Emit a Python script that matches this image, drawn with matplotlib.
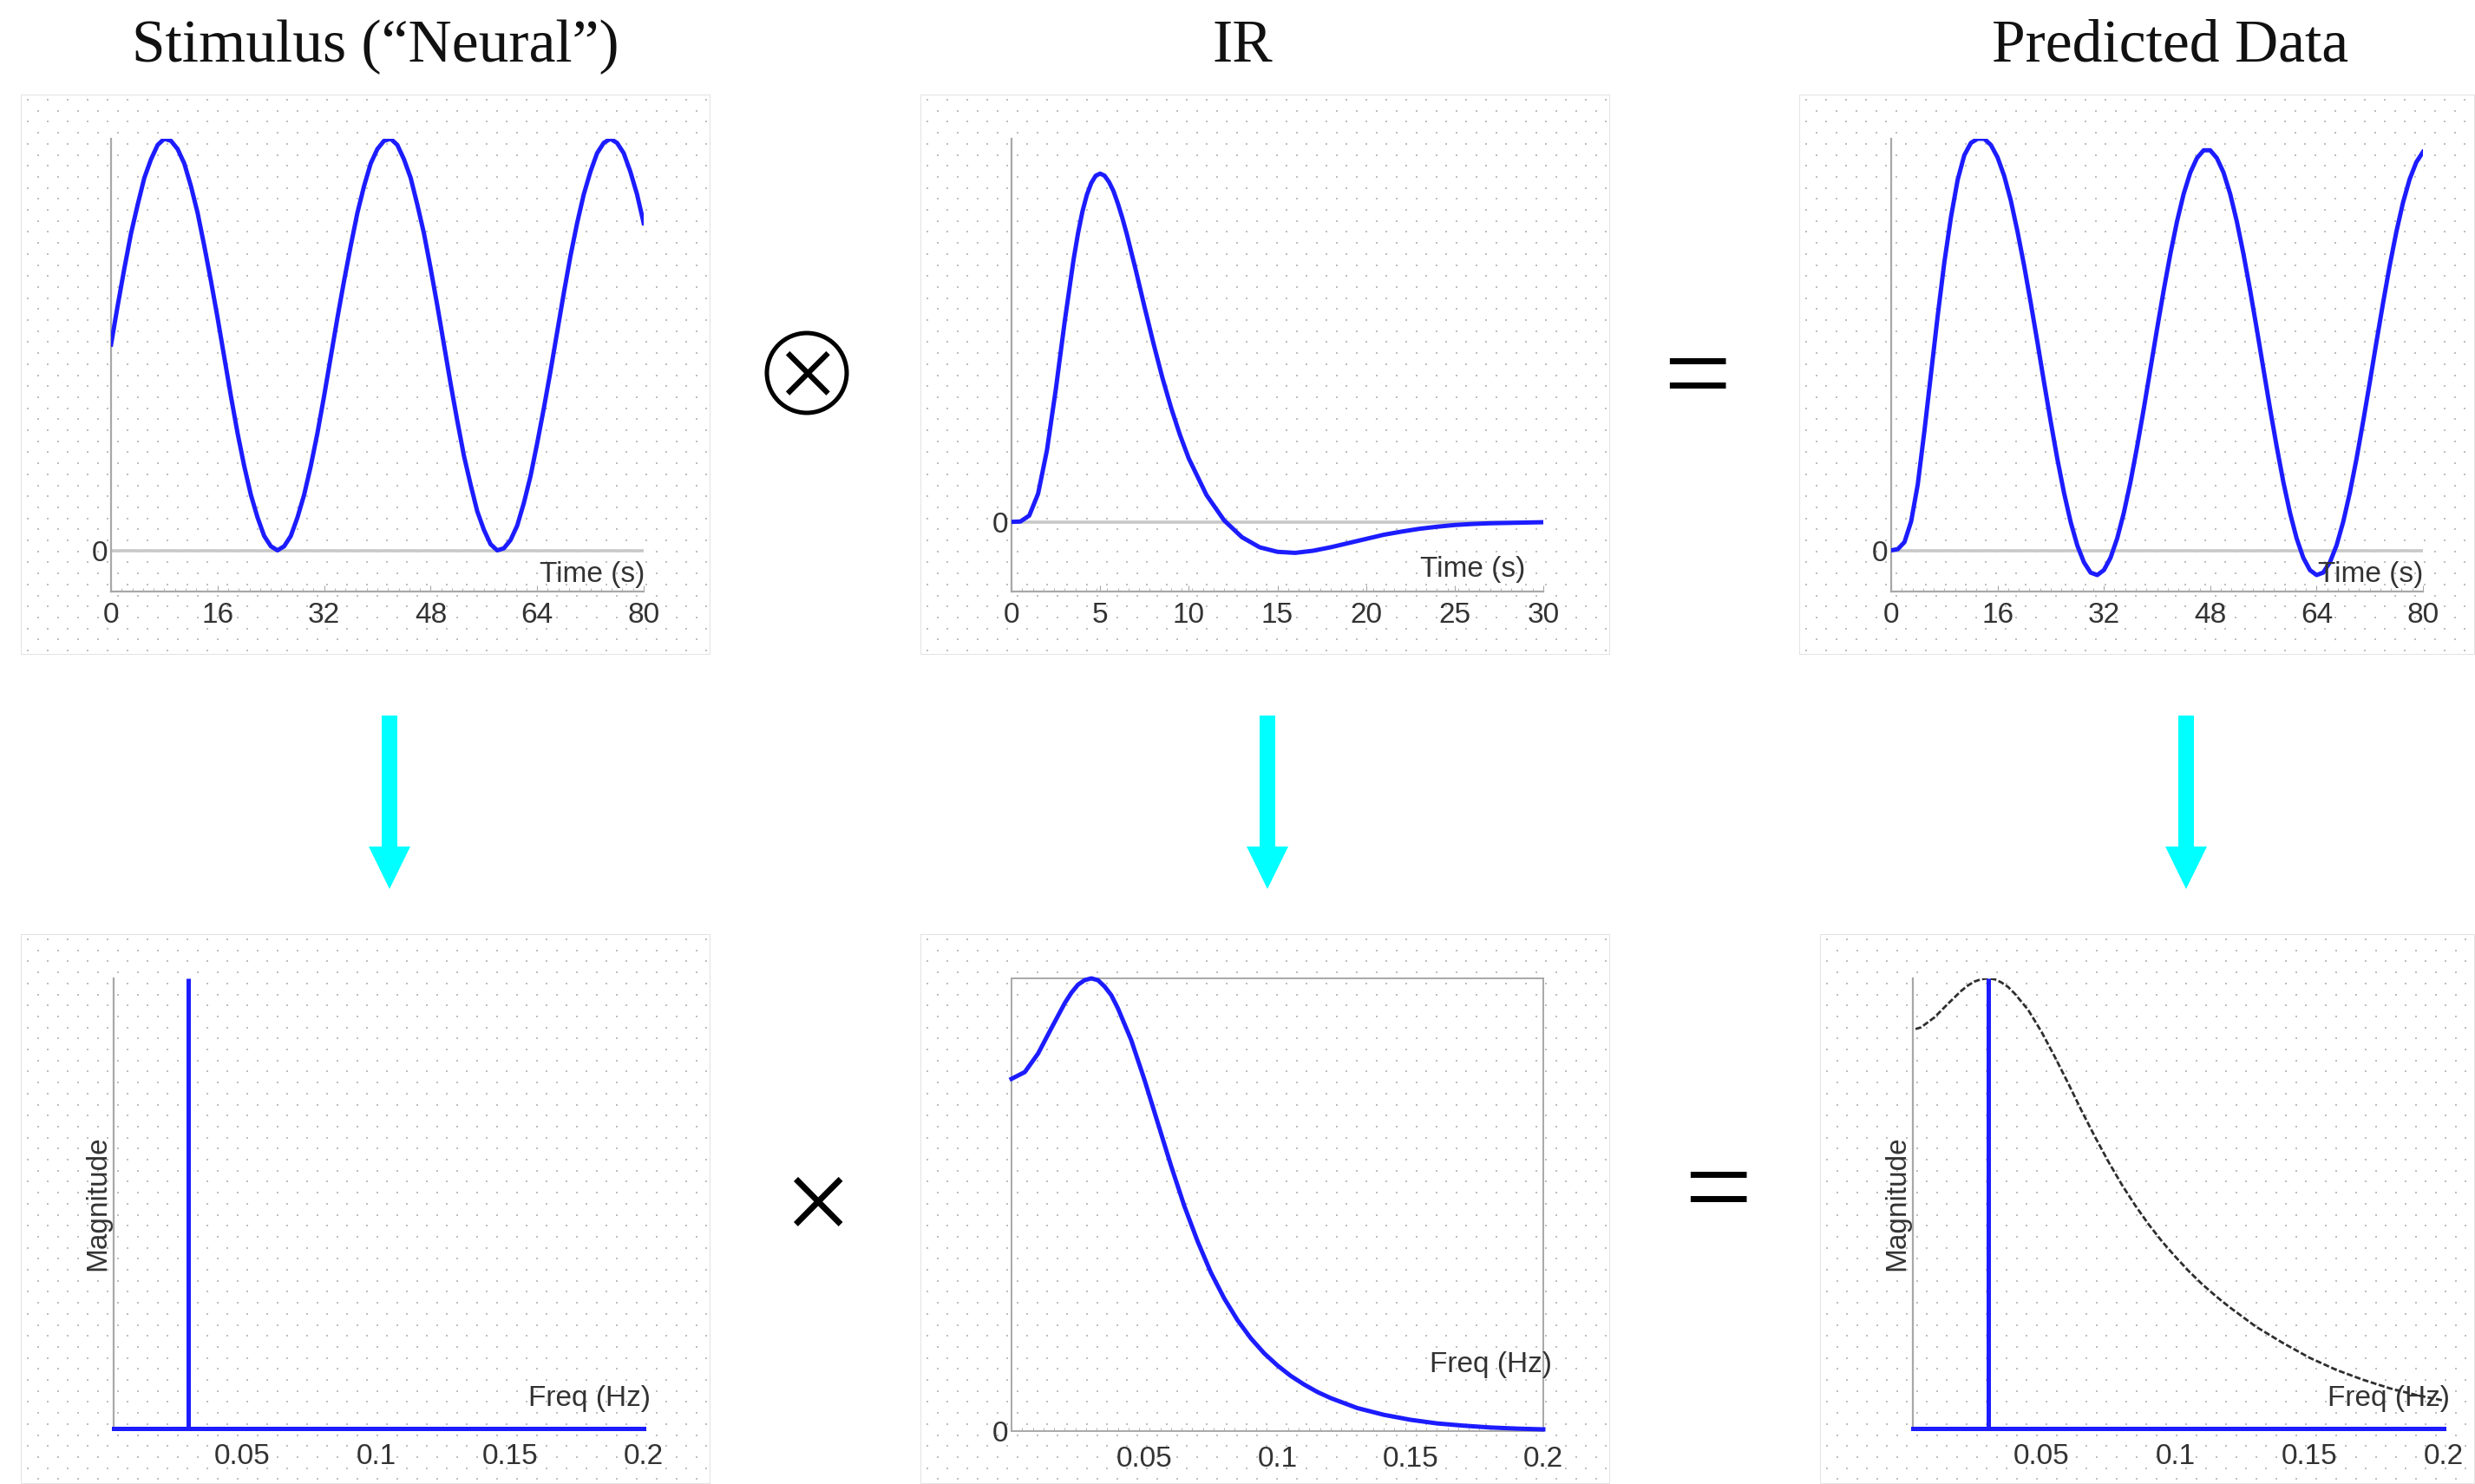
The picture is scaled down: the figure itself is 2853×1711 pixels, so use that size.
import numpy as np
import matplotlib
matplotlib.use('Agg')
import matplotlib.pyplot as plt
from matplotlib.patches import FancyArrow, Rectangle, Circle
from matplotlib.ticker import MultipleLocator

plt.rcParams['font.family'] = ['Liberation Sans', 'DejaVu Sans']

W, H = 2853, 1711

# stimulus ("neural"), one sample per second, 0..80 s
stim_t = list(range(0, 81))
stim_val = [1.00, 1.19, 1.37, 1.54, 1.68, 1.81, 1.90, 1.97, 2.00, 1.99,
            1.95, 1.88, 1.77, 1.64, 1.48, 1.31, 1.13, 0.94, 0.75, 0.57,
            0.41, 0.27, 0.16, 0.07, 0.02, 0.00, 0.02, 0.07, 0.16, 0.27,
            0.41, 0.57, 0.75, 0.94, 1.13, 1.31, 1.48, 1.64, 1.77, 1.88,
            1.95, 1.99, 2.00, 1.97, 1.90, 1.81, 1.68, 1.54, 1.37, 1.19,
            1.00, 0.81, 0.63, 0.46, 0.32, 0.19, 0.10, 0.03, 0.00, 0.01,
            0.05, 0.12, 0.23, 0.36, 0.52, 0.69, 0.87, 1.06, 1.25, 1.43,
            1.59, 1.73, 1.84, 1.93, 1.98, 2.00, 1.98, 1.93, 1.84, 1.73,
            1.59]

# impulse response (HRF)
ir_t = [0, 0.5, 1, 1.5, 2, 2.5, 3, 3.5, 3.75, 4, 4.25, 4.5, 4.75, 5, 5.25, 5.5, 5.75,
        6, 6.25, 6.5, 7, 7.5, 8, 8.5, 9, 9.5, 10,
        11, 12, 13, 14, 15, 16, 17, 18, 19, 20, 21, 22, 23, 24, 25, 26, 27, 28, 29, 30]
ir_val = [0, 0.001, 0.018, 0.081, 0.206, 0.381, 0.575, 0.753, 0.828, 0.891, 0.939, 0.973,
          0.994, 1.0, 0.994, 0.976, 0.950, 0.914, 0.873, 0.827, 0.725, 0.618, 0.514,
          0.416, 0.328, 0.250, 0.182,
          0.077, 0.004, -0.044, -0.073, -0.086, -0.089, -0.083, -0.073, -0.061, -0.049,
          -0.037, -0.028, -0.020, -0.014, -0.009, -0.006, -0.004, -0.003, -0.002, -0.001]

# predicted data (stimulus convolved with IR)
pred_t = list(range(0, 81))
pred_val = [0.00, 0.003, 0.02, 0.07, 0.16, 0.29, 0.43, 0.57, 0.70, 0.81,
            0.90, 0.96, 0.99, 1.00, 1.00, 0.985, 0.955, 0.91, 0.85, 0.775,
            0.692, 0.601, 0.506, 0.408, 0.313, 0.222, 0.140, 0.069, 0.012, -0.029,
            -0.054, -0.060, -0.048, -0.018, 0.029, 0.091, 0.166, 0.252, 0.344, 0.441,
            0.538, 0.632, 0.720, 0.799, 0.866, 0.918, 0.953, 0.972, 0.972, 0.953,
            0.918, 0.866, 0.799, 0.720, 0.632, 0.538, 0.441, 0.344, 0.252, 0.166,
            0.091, 0.029, -0.018, -0.048, -0.060, -0.054, -0.029, 0.012, 0.069, 0.140,
            0.222, 0.313, 0.408, 0.506, 0.601, 0.692, 0.774, 0.845, 0.902, 0.943,
            0.968]

# spectra
stim_freq = [0.03]
stim_mag = [1.0]
spec_f = [0, 0.005, 0.01, 0.015, 0.02, 0.0225, 0.025, 0.0275, 0.03, 0.0325, 0.035, 0.0375,
          0.04, 0.045, 0.05, 0.055, 0.06, 0.065, 0.07, 0.075, 0.08, 0.085, 0.09, 0.095,
          0.10, 0.105, 0.11, 0.115, 0.12, 0.13, 0.14, 0.15, 0.16, 0.17, 0.18, 0.19, 0.20]
ir_power = [0.778, 0.793, 0.834, 0.890, 0.945, 0.968, 0.986, 0.996, 1.000, 0.996, 0.982, 0.963,
            0.934, 0.864, 0.776, 0.681, 0.586, 0.497, 0.419, 0.350, 0.293, 0.245, 0.205, 0.172,
            0.145, 0.122, 0.103, 0.0865, 0.073, 0.051, 0.036, 0.025, 0.017, 0.012, 0.008,
            0.0055, 0.0038]
ir_amp = [0.882, 0.891, 0.913, 0.943, 0.972, 0.984, 0.993, 0.998, 1.000, 0.998, 0.991, 0.981,
          0.966, 0.930, 0.881, 0.825, 0.766, 0.705, 0.647, 0.592, 0.541, 0.495, 0.453, 0.415,
          0.381, 0.349, 0.320, 0.294, 0.270, 0.226, 0.190, 0.157, 0.130, 0.108, 0.089,
          0.074, 0.062]

time_ticks_80 = [0, 16, 32, 48, 64, 80]
time_ticks_30 = [0, 5, 10, 15, 20, 25, 30]
freq_ticks = [0.05, 0.1, 0.15, 0.2]
freq_labels = ['0.05', '0.1', '0.15', '0.2']

BLUE = '#1c1cff'
SPINE = '#a8a8a8'
TXT = '#333333'
LW = 3.6

fig = plt.figure(figsize=(W / 100, H / 100), dpi=100)


def px_axes(l, t, r, b):
    return fig.add_axes([l / W, 1 - b / H, (r - l) / W, (b - t) / H])


# overlay in pixel coords for titles, arrows and operators
ov = px_axes(0, 0, W, H)
ov.set_xlim(0, W)
ov.set_ylim(H, 0)
ov.axis('off')


def panel_bg(l, t, r, b):
    bg = px_axes(l, t, r, b)
    w, h = r - l, b - t
    bg.set_xlim(0, w)
    bg.set_ylim(h, 0)
    bg.axis('off')
    xs, ys = [], []
    for k, yy in enumerate(np.arange(6, h, 12.7)):
        off = 11.5 if k % 2 else 0
        for xx in np.arange(8 + off, w, 23):
            xs.append(xx)
            ys.append(yy)
    bg.scatter(xs, ys, s=4.0, c='#bebebe', linewidths=0, marker='s')
    bg.add_patch(Rectangle((0, 0), w, h, fill=False, ec='#e4e4e4', lw=1.5))


panel_bg(24, 109, 819, 755)
panel_bg(1061, 109, 1856, 755)
panel_bg(2074, 109, 2853, 755)
panel_bg(24, 1077, 819, 1711)
panel_bg(1061, 1077, 1856, 1711)
panel_bg(2098, 1077, 2853, 1711)


def time_axes(box, xmax, ymin, ymax, ticks, minor):
    ax = px_axes(*box)
    ax.patch.set_alpha(0)
    ax.set_xlim(0, xmax)
    ax.set_ylim(ymin, ymax)
    for s in ['top', 'right']:
        ax.spines[s].set_visible(False)
    for s in ['left', 'bottom']:
        ax.spines[s].set_color(SPINE)
        ax.spines[s].set_linewidth(1.6)
    ax.axhline(0, color='#c8c8c8', lw=2.6, zorder=1)
    ax.set_xticks(ticks)
    ax.set_xticklabels([str(v) for v in ticks])
    ax.xaxis.set_minor_locator(MultipleLocator(minor))
    ax.set_yticks([0])
    ax.set_yticklabels(['0'])
    ax.tick_params(axis='x', which='both', direction='in', colors=SPINE, labelcolor=TXT,
                   labelsize=24, pad=9)
    ax.tick_params(axis='x', which='major', length=5)
    ax.tick_params(axis='x', which='minor', length=3)
    ax.tick_params(axis='y', length=0, labelcolor=TXT, labelsize=24, pad=3)
    return ax


def freq_axes(box, xmin):
    ax = px_axes(*box)
    ax.patch.set_alpha(0)
    ax.set_xlim(xmin, 0.2)
    ax.set_ylim(0, 1)
    ax.set_xticks(freq_ticks)
    ax.set_xticklabels(freq_labels)
    ax.tick_params(axis='x', length=0, labelcolor=TXT, labelsize=24, pad=12)
    return ax


# top row
ax1 = time_axes((128, 160, 742, 682), 80, -0.2, 2.0, time_ticks_80, 1.6)
ax1.plot(stim_t, stim_val, color=BLUE, lw=LW, zorder=3)
ax1.text(1.003, 0.038, 'Time (s)', transform=ax1.transAxes, ha='right', va='center',
         fontsize=24, color=TXT)

ax2 = time_axes((1166, 160, 1779, 682), 30, -0.2, 1.1, time_ticks_30, 0.6)
ax2.plot(ir_t, ir_val, color=BLUE, lw=LW, zorder=3)
ax2.text(0.967, 0.048, 'Time (s)', transform=ax2.transAxes, ha='right', va='center',
         fontsize=24, color=TXT)

ax3 = time_axes((2180, 160, 2793, 682), 80, -0.1, 1.0, time_ticks_80, 1.6)
ax3.plot(pred_t, pred_val, color=BLUE, lw=LW, zorder=3)
ax3.text(1.0, 0.038, 'Time (s)', transform=ax3.transAxes, ha='right', va='center',
         fontsize=24, color=TXT)

# bottom row
ax4 = freq_axes((131, 1128, 742, 1647), 0.002)
for s in ['top', 'right', 'bottom']:
    ax4.spines[s].set_visible(False)
ax4.spines['left'].set_color(SPINE)
ax4.spines['left'].set_linewidth(1.6)
ax4.set_yticks([])
ax4.axhline(0, color=BLUE, lw=LW, clip_on=False, zorder=3)
ax4.vlines(stim_freq, 0, stim_mag, color=BLUE, lw=LW, zorder=3)
ax4.set_ylabel('Magnitude', fontsize=24, color=TXT, labelpad=2)
ax4.text(1.013, 0.067, 'Freq (Hz)', transform=ax4.transAxes, ha='right', va='center',
         fontsize=24, color=TXT)

ax5 = freq_axes((1166, 1128, 1779, 1650), 0)
for s in ax5.spines.values():
    s.set_color(SPINE)
    s.set_linewidth(1.4)
ax5.set_yticks([0])
ax5.set_yticklabels(['0'])
ax5.tick_params(axis='y', length=0, labelcolor=TXT, labelsize=24, pad=3)
ax5.xaxis.set_minor_locator(MultipleLocator(0.004))
ax5.tick_params(axis='x', which='minor', direction='in', length=3, color=SPINE)
ax5.plot(spec_f, ir_power, color=BLUE, lw=LW, zorder=3, clip_on=False)
ax5.text(1.016, 0.146, 'Freq (Hz)', transform=ax5.transAxes, ha='right', va='center',
         fontsize=24, color=TXT)

ax6 = freq_axes((2205, 1128, 2817, 1647), 0.002)
for s in ['top', 'right', 'bottom']:
    ax6.spines[s].set_visible(False)
ax6.spines['left'].set_color(SPINE)
ax6.spines['left'].set_linewidth(1.6)
ax6.set_yticks([])
ax6.plot(spec_f, ir_amp, color='#2e2e2e', lw=2.0, ls=(0, (2.5, 1)), zorder=2)
ax6.axhline(0, color=BLUE, lw=LW, clip_on=False, zorder=3)
ax6.vlines(stim_freq, 0, stim_mag, color=BLUE, lw=LW, zorder=3)
ax6.set_ylabel('Magnitude', fontsize=24, color=TXT, labelpad=2)
ax6.text(1.011, 0.067, 'Freq (Hz)', transform=ax6.transAxes, ha='right', va='center',
         fontsize=24, color=TXT)

# titles
for x, title in [(433, 'Stimulus (\u201cNeural\u201d)'), (1432, 'IR'), (2502, 'Predicted Data')]:
    ov.text(x, 54, title, ha='center', va='center', fontsize=50,
            family='Liberation Serif', color='#111111')

# arrows
for x in [449, 1461, 2520]:
    ov.add_patch(FancyArrow(x, 825, 0, 200, width=18, head_width=48, head_length=49,
                            length_includes_head=True, color='#00ffff', lw=0))

# operators: convolution (circled times), equals, times
ov.add_patch(Circle((930, 430), 46, fill=False, ec='black', lw=3.6))
ov.text(930, 441, '\u00d7', ha='center', va='center', fontsize=90, family='Liberation Serif', color='black')
ov.text(1956, 443, '=', ha='center', va='center', fontsize=100, family='Liberation Serif', color='black')
ov.text(942, 1399, '\u00d7', ha='center', va='center', fontsize=100, family='Liberation Serif', color='black')
ov.text(1980, 1381, '=', ha='center', va='center', fontsize=100, family='Liberation Serif', color='black')

fig.savefig('out.png', dpi=100)
